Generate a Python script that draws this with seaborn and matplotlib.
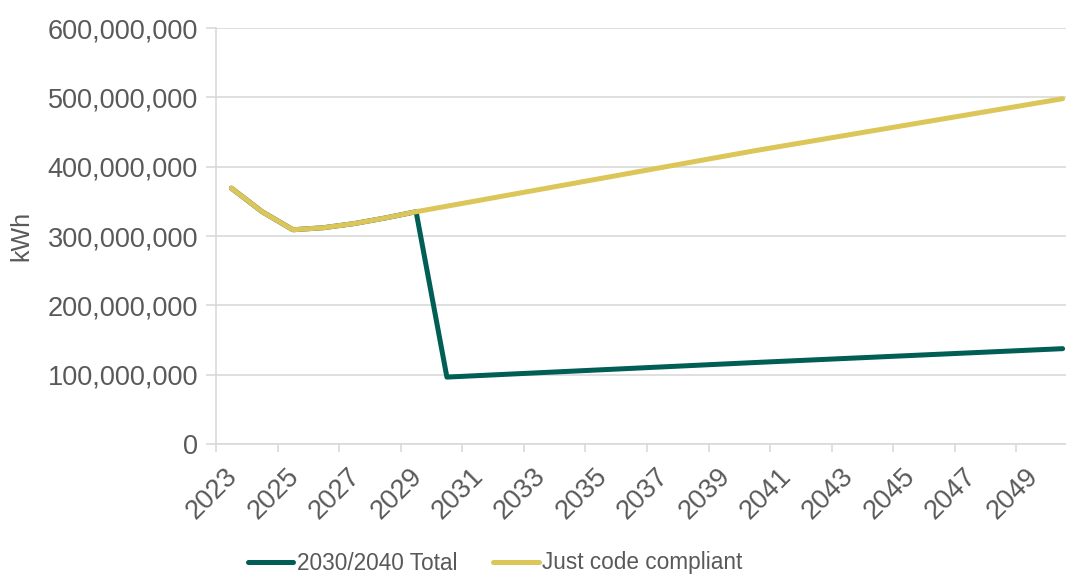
import matplotlib
matplotlib.use("Agg")
import matplotlib.pyplot as plt
import matplotlib.ticker as mticker
import matplotlib.transforms as mtransforms
import seaborn as sns
import pandas as pd

years = list(range(2023, 2051))
just_code = [369, 335, 309, 312, 318, 326, 335, 343, 351, 359, 367, 375, 383, 391,
             399, 407, 415, 423, 430.5, 438, 445.5, 453, 460.5, 468, 475.5, 483, 490.5, 498]
total_2030_2040 = [369, 335, 309, 312, 318, 326, 335, 96.5, 98.6, 100.7, 102.8, 104.9,
                   107, 109.1, 111.2, 113.3, 115.4, 117.5, 119.5, 121.5, 123.5, 125.5,
                   127.5, 129.5, 131.5, 133.5, 135.5, 137.5]
series_names = ["2030/2040 Total", "Just code compliant"]
colors = ["#005E54", "#DCC65A"]
y_ticks = [0, 100_000_000, 200_000_000, 300_000_000, 400_000_000, 500_000_000, 600_000_000]
x_label_years = list(range(2023, 2050, 2))

df = pd.concat([
    pd.DataFrame({"year": years, "kWh": [v * 1e6 for v in total_2030_2040], "series": series_names[0]}),
    pd.DataFrame({"year": years, "kWh": [v * 1e6 for v in just_code], "series": series_names[1]}),
])

sns.set_theme(style="white")
plt.rcParams["font.family"] = ["Liberation Sans", "DejaVu Sans"]
text_color = "#595959"
grid_color = "#D9D9D9"

fig = plt.figure(figsize=(10.66, 5.76), dpi=100)
ax = fig.add_axes([216 / 1066, 1 - 444 / 576, 862 / 1066, (444 - 28) / 576])

sns.lineplot(data=df, x="year", y="kWh", hue="series", hue_order=series_names,
             palette=colors, linewidth=3.6, ax=ax, legend=False, sort=False,
             solid_capstyle="round", solid_joinstyle="round")

ax.set_xlim(2022.5, 2050.5)
ax.set_ylim(0, 600_000_000)
ax.set_yticks(y_ticks)
ax.yaxis.set_major_formatter(mticker.FuncFormatter(lambda v, p: f"{int(v):,}"))
ax.grid(axis="y", color=grid_color, linewidth=1.2)
ax.set_axisbelow(True)

# category boundaries as major ticks, labels at category centres as minor ticks
ax.set_xticks([y - 0.5 for y in x_label_years])
ax.set_xticklabels([])
ax.set_xticks(x_label_years, minor=True)
ax.set_xticklabels([str(y) for y in x_label_years], minor=True, rotation=45,
                   ha="right", va="top", rotation_mode="anchor", fontsize=19.5, color=text_color)
ax.tick_params(axis="x", which="major", direction="out", length=6, width=1.2, color=grid_color, bottom=True)
ax.tick_params(axis="x", which="minor", length=0, pad=14, bottom=True)
ax.tick_params(axis="y", direction="out", length=7, width=1.2, color=grid_color, left=True,
               labelsize=19.5, labelcolor=text_color, pad=6)
offset = mtransforms.ScaledTranslation(-7 / 100, 0, fig.dpi_scale_trans)
for lbl in ax.get_xticklabels(minor=True):
    lbl.set_transform(lbl.get_transform() + offset)

for s in ["top", "right"]:
    ax.spines[s].set_visible(False)
for s in ["left", "bottom"]:
    ax.spines[s].set_color(grid_color)
    ax.spines[s].set_linewidth(1.2)

ax.set_xlabel("")
ax.set_ylabel("kWh", fontsize=18, color=text_color)
ax.yaxis.set_label_coords((33 - 216) / 862, 0.5)

handles = [plt.Line2D([], [], color=c, linewidth=3.6, solid_capstyle="round") for c in colors]
leg = fig.legend(handles, series_names, loc="center", bbox_to_anchor=(495 / 1066, 1 - 563 / 576),
                 ncol=2, frameon=False, fontsize=16.3, handlelength=2.0, handletextpad=0.15,
                 columnspacing=1.6, borderpad=0, borderaxespad=0)
for t in leg.get_texts():
    t.set_color(text_color)

fig.savefig("out.png", dpi=100)
